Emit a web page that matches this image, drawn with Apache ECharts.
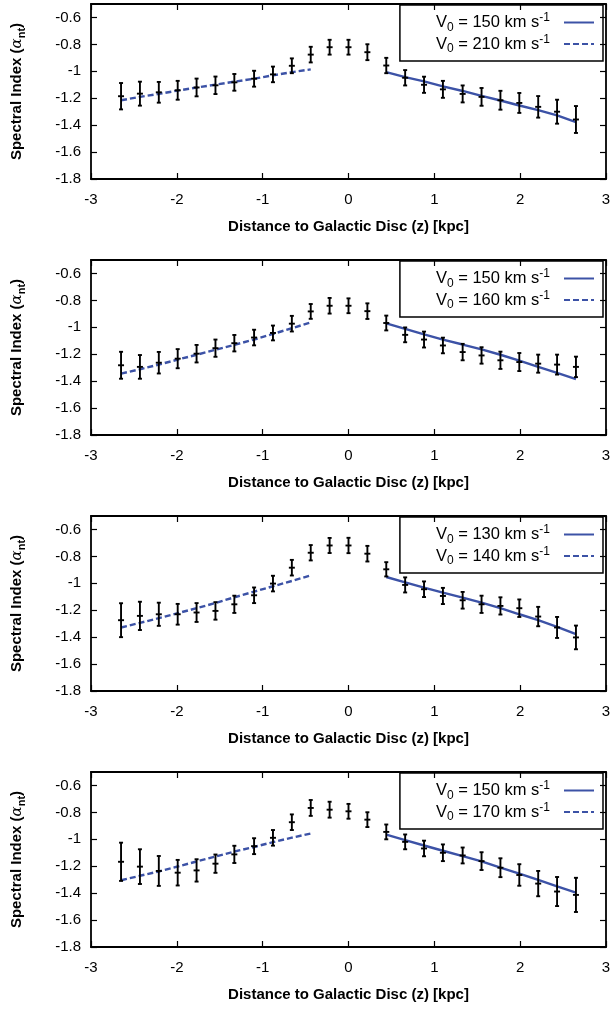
<!DOCTYPE html>
<html><head><meta charset="utf-8">
<script src="https://cdn.jsdelivr.net/npm/echarts@6/dist/echarts.min.js"></script>
<style>html,body{margin:0;padding:0;background:#fff}#c{width:616px;height:1014px}</style>
</head><body><div id="c"></div>
<script>
// ---- data ----
const xs = [-2.65,-2.43,-2.21,-1.99,-1.77,-1.55,-1.33,-1.10,-0.88,-0.66,-0.44,-0.22,0,0.22,0.44,0.66,0.88,1.10,1.33,1.55,1.77,1.99,2.21,2.43,2.65];
const xTicks = [-3,-2,-1,0,1,2,3];
const yTicks = [-1.8,-1.6,-1.4,-1.2,-1,-0.8,-0.6];
const solidV = [150,150,130,150];
const dashV  = [210,160,140,170];

const vals1 = [-1.185,-1.166,-1.156,-1.141,-1.120,-1.104,-1.082,-1.055,-1.023,-0.959,-0.876,-0.821,-0.821,-0.858,-0.957,-1.048,-1.100,-1.134,-1.168,-1.190,-1.215,-1.235,-1.264,-1.300,-1.358];
const errs1 = [0.098,0.089,0.077,0.070,0.066,0.065,0.062,0.059,0.058,0.055,0.058,0.055,0.055,0.059,0.057,0.057,0.060,0.063,0.063,0.066,0.070,0.074,0.080,0.089,0.100];
const dash1 = [-1.215,-1.190,-1.168,-1.143,-1.121,-1.099,-1.077,-1.055,-1.030,-1.006,-0.986];
const solid1 = [-1.006,-1.043,-1.075,-1.112,-1.146,-1.183,-1.217,-1.254,-1.288,-1.328,-1.377];

const vals2 = [-1.282,-1.294,-1.263,-1.233,-1.196,-1.155,-1.118,-1.076,-1.042,-0.973,-0.882,-0.840,-0.840,-0.880,-0.968,-1.056,-1.091,-1.135,-1.184,-1.209,-1.245,-1.258,-1.270,-1.277,-1.294];
const errs2 = [0.100,0.088,0.080,0.071,0.065,0.064,0.061,0.058,0.055,0.058,0.055,0.058,0.055,0.058,0.055,0.055,0.059,0.058,0.061,0.061,0.064,0.067,0.067,0.074,0.076];
const dash2 = [-1.344,-1.312,-1.277,-1.240,-1.204,-1.167,-1.130,-1.091,-1.049,-1.007,-0.963];
const solid2 = [-0.971,-1.012,-1.052,-1.091,-1.128,-1.164,-1.204,-1.248,-1.294,-1.339,-1.385];

const vals3 = [-1.274,-1.242,-1.230,-1.230,-1.217,-1.205,-1.156,-1.089,-1.002,-0.884,-0.773,-0.719,-0.719,-0.780,-0.896,-1.012,-1.044,-1.094,-1.126,-1.156,-1.168,-1.185,-1.247,-1.328,-1.402];
const errs3 = [0.126,0.105,0.086,0.077,0.070,0.065,0.064,0.058,0.058,0.058,0.057,0.056,0.057,0.058,0.053,0.056,0.058,0.060,0.062,0.064,0.064,0.065,0.072,0.078,0.088];
const dash3 = [-1.328,-1.294,-1.259,-1.222,-1.185,-1.146,-1.104,-1.062,-1.022,-0.983,-0.941];
const solid3 = [-0.953,-0.993,-1.032,-1.069,-1.106,-1.143,-1.185,-1.230,-1.274,-1.323,-1.378];

const vals4 = [-1.167,-1.203,-1.235,-1.248,-1.231,-1.181,-1.112,-1.051,-0.989,-0.873,-0.767,-0.780,-0.792,-0.854,-0.945,-1.019,-1.068,-1.100,-1.120,-1.162,-1.211,-1.265,-1.329,-1.388,-1.413];
const errs4 = [0.142,0.129,0.111,0.095,0.083,0.068,0.064,0.059,0.058,0.058,0.059,0.059,0.055,0.055,0.055,0.055,0.058,0.062,0.059,0.066,0.070,0.080,0.094,0.108,0.127];
const dash4 = [-1.304,-1.271,-1.239,-1.202,-1.165,-1.128,-1.091,-1.057,-1.021,-0.988,-0.957];
const solid4 = [-0.965,-1.006,-1.046,-1.085,-1.125,-1.164,-1.211,-1.255,-1.302,-1.349,-1.396];

const panels = [
  {vals: vals1, errs: errs1, dash: dash1, solid: solid1},
  {vals: vals2, errs: errs2, dash: dash2, solid: solid2},
  {vals: vals3, errs: errs3, dash: dash3, solid: solid3},
  {vals: vals4, errs: errs4, dash: dash4, solid: solid4}
];

// ---- styling / layout ----
const FONT = 'Liberation Sans, Arial, Helvetica, sans-serif';
const BLUE = '#3c52a6';
const PANEL_STEP = 256;
const TOP0 = 4;
const PLOT_H = 175;

function vName(v){ return 'V0 = ' + v + ' km s-1'; }
function richName(name){
  const v = name.replace('V0 = ','').replace(' km s-1','');
  return '{n|V}{sub|0}{n| = ' + v + ' km s}{sup|-1}{g|}';
}

function renderErr(params, api){
  const x = api.value(0), y = api.value(1), e = api.value(2);
  const c = api.coord([x, y]);
  const hi = api.coord([x, y + e]);
  const lo = api.coord([x, y - e]);
  const st = {stroke: '#000', lineWidth: 1.9};
  const cap = 2, pt = 3;
  return {type: 'group', children: [
    {type: 'line', shape: {x1: c[0], y1: lo[1], x2: c[0], y2: hi[1]}, style: st},
    {type: 'line', shape: {x1: c[0]-cap, y1: lo[1], x2: c[0]+cap, y2: lo[1]}, style: st},
    {type: 'line', shape: {x1: c[0]-cap, y1: hi[1], x2: c[0]+cap, y2: hi[1]}, style: st},
    {type: 'line', shape: {x1: c[0]-pt, y1: c[1], x2: c[0]+pt, y2: c[1]}, style: st}
  ]};
}

const grid = [], xAxis = [], yAxis = [], series = [], legend = [];
const axLine = {show: true, onZero: false, lineStyle: {color: '#000', width: 1.8}};
const axTick = {show: true, inside: true, length: 6, lineStyle: {color: '#000', width: 1.2}};

panels.forEach((p, i) => {
  const top = TOP0 + i * PANEL_STEP;
  grid.push({left: 91, right: 10, top: top, height: PLOT_H});
  xAxis.push({
    type: 'value', gridIndex: i, min: xTicks[0], max: xTicks[xTicks.length-1], interval: 1,
    axisLine: axLine, axisTick: axTick, splitLine: {show: false},
    axisLabel: {color: '#000', fontSize: 15, fontFamily: FONT, margin: 13},
    name: 'Distance to Galactic Disc (z) [kpc]', nameLocation: 'middle', nameGap: 40,
    nameTextStyle: {color: '#000', fontSize: 15, fontWeight: 'bold', fontFamily: FONT}
  });
  xAxis.push({
    type: 'value', gridIndex: i, position: 'top', min: -3, max: 3, interval: 1,
    axisLine: axLine, axisTick: axTick, axisLabel: {show: false}, splitLine: {show: false}
  });
  yAxis.push({
    type: 'value', gridIndex: i, min: yTicks[0], max: -0.5, interval: 0.2,
    axisLine: axLine, axisTick: axTick, splitLine: {show: false},
    axisLabel: {color: '#000', fontSize: 15, fontFamily: FONT, margin: 10, showMaxLabel: false,
      formatter: v => (Math.round(v*10)/10).toString()},
    name: '{b|Spectral Index (}{g|α}{s|nt}{b|)}', nameLocation: 'middle', nameGap: 64,
    nameTextStyle: {color: '#000', fontFamily: FONT, rich: {
      b: {fontSize: 15, fontWeight: 'bold', fontFamily: FONT, color: '#000'},
      g: {fontSize: 15, fontFamily: 'DejaVu Serif, serif', fontStyle: 'italic', color: '#000'},
      s: {fontSize: 11, fontWeight: 'bold', fontFamily: FONT, color: '#000', padding: [9, 0, 0, 0]}
    }}
  });
  yAxis.push({
    type: 'value', gridIndex: i, position: 'right', min: -1.8, max: -0.5, interval: 0.2,
    axisLine: axLine, axisTick: axTick, axisLabel: {show: false}, splitLine: {show: false}
  });
  series.push({
    type: 'custom', xAxisIndex: 2*i, yAxisIndex: 2*i, renderItem: renderErr,
    data: xs.map((x, k) => [x, p.vals[k], p.errs[k]]), z: 3, silent: true
  });
  const dName = vName(dashV[i]), sName = vName(solidV[i]);
  series.push({
    type: 'line', name: sName, xAxisIndex: 2*i, yAxisIndex: 2*i, symbol: 'none',
    lineStyle: {color: BLUE, width: 2.4, type: 'solid'}, itemStyle: {color: BLUE},
    data: p.solid.map((v, k) => [xs[14 + k], v]), z: 2, silent: true
  });
  series.push({
    type: 'line', name: dName, xAxisIndex: 2*i, yAxisIndex: 2*i, symbol: 'none',
    lineStyle: {color: BLUE, width: 2.4, type: [6, 3]}, itemStyle: {color: BLUE},
    data: p.dash.map((v, k) => [xs[k], v]), z: 2, silent: true
  });
  legend.push({
    data: [sName, dName], orient: 'vertical', right: 13, top: top + 1, align: 'right',
    borderColor: '#000', borderWidth: 1.5, padding: [7, 8, 6, 36], itemGap: 0,
    itemWidth: 30, itemHeight: 18, selectedMode: false,
    itemStyle: {opacity: 0, borderWidth: 0},
    formatter: richName,
    textStyle: {color: '#000', fontFamily: FONT, rich: {
      n: {fontSize: 16.5, fontFamily: FONT, color: '#000'},
      sub: {fontSize: 12, fontFamily: FONT, color: '#000', padding: [10, 0, 0, 0]},
      sup: {fontSize: 12, fontFamily: FONT, color: '#000', padding: [0, 0, 9, 0]},
      g: {width: 9}
    }}
  });
});

const chart = echarts.init(document.getElementById('c'), null, {renderer: 'canvas'});
chart.setOption({animation: false, backgroundColor: '#fff', grid, xAxis, yAxis, series, legend});
</script></body></html>
